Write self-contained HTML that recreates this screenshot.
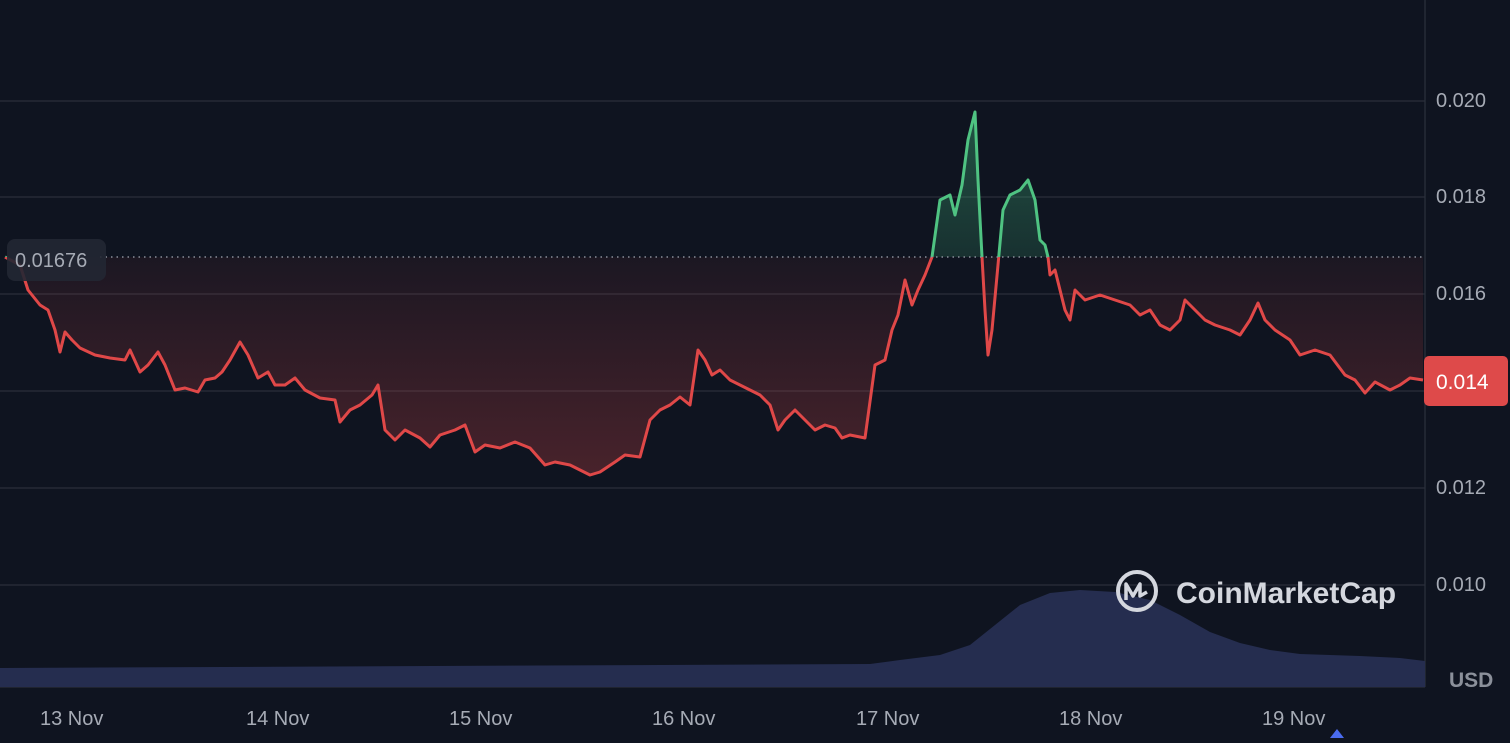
<!DOCTYPE html>
<html><head><meta charset="utf-8"><style>
html,body{margin:0;padding:0;background:#0f1420;}
body{width:1510px;height:738px;overflow:hidden;font-family:"Liberation Sans",sans-serif;}
</style></head><body>
<svg width="1510" height="738" viewBox="0 0 1510 738" xmlns="http://www.w3.org/2000/svg">
<defs>
<linearGradient id="rg" x1="0" y1="257" x2="0" y2="480" gradientUnits="userSpaceOnUse">
<stop offset="0" stop-color="#e04848" stop-opacity="0.06"/><stop offset="1" stop-color="#e04848" stop-opacity="0.28"/></linearGradient>
<linearGradient id="gg" x1="0" y1="110" x2="0" y2="257" gradientUnits="userSpaceOnUse">
<stop offset="0" stop-color="#3fb37a" stop-opacity="0.4"/><stop offset="1" stop-color="#3fb37a" stop-opacity="0.18"/></linearGradient>
<clipPath id="above"><rect x="0" y="0" width="1425" height="257"/></clipPath>
<clipPath id="below"><rect x="0" y="257" width="1425" height="430"/></clipPath>
</defs>
<rect width="1510" height="738" fill="#0f1420"/>
<g stroke="#2a2f3b" stroke-width="1.3">
<line x1="0" y1="101" x2="1425" y2="101"/><line x1="0" y1="197" x2="1425" y2="197"/>
<line x1="0" y1="294" x2="1425" y2="294"/><line x1="0" y1="391" x2="1425" y2="391"/>
<line x1="0" y1="488" x2="1425" y2="488"/><line x1="0" y1="585" x2="1425" y2="585"/>
<line x1="1425" y1="0" x2="1425" y2="687"/><line x1="0" y1="687" x2="1425" y2="687"/>
</g>
<path d="M0,668 L870,664 L900,660 L940,655 L970,645 L995,625 L1020,605 L1050,593 L1080,590 L1115,592 L1150,600 L1180,615 L1210,632 L1240,643 L1270,650 L1300,654 L1360,656 L1400,658 L1425,661 L1425,687 L0,687Z" fill="#252d4f"/>
<polygon fill="url(#rg)" clip-path="url(#below)" points="5,257 5,257 20,265 28,290 40,305 48,310 55,330 60,352 65,332 72,340 80,348 95,355 110,358 125,360 130,350 140,372 148,365 158,352 165,365 175,390 185,388 198,392 205,380 215,378 222,372 230,360 240,342 248,355 258,378 268,372 275,385 285,385 295,378 305,390 320,398 335,400 340,422 350,410 360,405 372,395 378,385 385,430 395,440 405,430 420,438 430,447 440,435 455,430 465,425 475,452 485,445 500,448 515,442 530,448 545,465 555,462 570,465 580,470 590,475 600,472 615,462 625,455 640,457 650,420 660,410 670,405 680,397 690,405 698,350 705,360 712,375 720,370 730,380 740,385 750,390 760,395 770,405 778,430 785,420 795,410 805,420 815,430 825,425 835,428 842,438 850,435 865,438 875,365 885,360 892,330 898,315 905,280 912,305 918,290 925,275 932,257 940,200 950,195 955,215 962,185 968,140 975,112 978,180 982,257 985,310 988,355 992,330 998,265 1003,210 1010,195 1020,190 1028,180 1035,200 1040,240 1045,245 1048,257 1050,275 1055,270 1060,290 1065,310 1070,320 1075,290 1085,300 1100,295 1115,300 1130,305 1140,315 1150,310 1160,325 1170,330 1180,320 1185,300 1195,310 1205,320 1215,325 1230,330 1240,335 1250,320 1258,303 1265,320 1275,330 1290,340 1300,355 1315,350 1330,355 1345,375 1355,380 1365,393 1375,382 1390,390 1400,385 1410,378 1423,380 1423,257"/>
<polygon fill="url(#gg)" clip-path="url(#above)" points="5,257 5,257 20,265 28,290 40,305 48,310 55,330 60,352 65,332 72,340 80,348 95,355 110,358 125,360 130,350 140,372 148,365 158,352 165,365 175,390 185,388 198,392 205,380 215,378 222,372 230,360 240,342 248,355 258,378 268,372 275,385 285,385 295,378 305,390 320,398 335,400 340,422 350,410 360,405 372,395 378,385 385,430 395,440 405,430 420,438 430,447 440,435 455,430 465,425 475,452 485,445 500,448 515,442 530,448 545,465 555,462 570,465 580,470 590,475 600,472 615,462 625,455 640,457 650,420 660,410 670,405 680,397 690,405 698,350 705,360 712,375 720,370 730,380 740,385 750,390 760,395 770,405 778,430 785,420 795,410 805,420 815,430 825,425 835,428 842,438 850,435 865,438 875,365 885,360 892,330 898,315 905,280 912,305 918,290 925,275 932,257 940,200 950,195 955,215 962,185 968,140 975,112 978,180 982,257 985,310 988,355 992,330 998,265 1003,210 1010,195 1020,190 1028,180 1035,200 1040,240 1045,245 1048,257 1050,275 1055,270 1060,290 1065,310 1070,320 1075,290 1085,300 1100,295 1115,300 1130,305 1140,315 1150,310 1160,325 1170,330 1180,320 1185,300 1195,310 1205,320 1215,325 1230,330 1240,335 1250,320 1258,303 1265,320 1275,330 1290,340 1300,355 1315,350 1330,355 1345,375 1355,380 1365,393 1375,382 1390,390 1400,385 1410,378 1423,380 1423,257"/>
<polyline fill="none" stroke="#e04848" stroke-width="3" stroke-linejoin="round" clip-path="url(#below)" points="5,257 20,265 28,290 40,305 48,310 55,330 60,352 65,332 72,340 80,348 95,355 110,358 125,360 130,350 140,372 148,365 158,352 165,365 175,390 185,388 198,392 205,380 215,378 222,372 230,360 240,342 248,355 258,378 268,372 275,385 285,385 295,378 305,390 320,398 335,400 340,422 350,410 360,405 372,395 378,385 385,430 395,440 405,430 420,438 430,447 440,435 455,430 465,425 475,452 485,445 500,448 515,442 530,448 545,465 555,462 570,465 580,470 590,475 600,472 615,462 625,455 640,457 650,420 660,410 670,405 680,397 690,405 698,350 705,360 712,375 720,370 730,380 740,385 750,390 760,395 770,405 778,430 785,420 795,410 805,420 815,430 825,425 835,428 842,438 850,435 865,438 875,365 885,360 892,330 898,315 905,280 912,305 918,290 925,275 932,257 940,200 950,195 955,215 962,185 968,140 975,112 978,180 982,257 985,310 988,355 992,330 998,265 1003,210 1010,195 1020,190 1028,180 1035,200 1040,240 1045,245 1048,257 1050,275 1055,270 1060,290 1065,310 1070,320 1075,290 1085,300 1100,295 1115,300 1130,305 1140,315 1150,310 1160,325 1170,330 1180,320 1185,300 1195,310 1205,320 1215,325 1230,330 1240,335 1250,320 1258,303 1265,320 1275,330 1290,340 1300,355 1315,350 1330,355 1345,375 1355,380 1365,393 1375,382 1390,390 1400,385 1410,378 1423,380"/>
<polyline fill="none" stroke="#4fc382" stroke-width="3" stroke-linejoin="round" clip-path="url(#above)" points="5,257 20,265 28,290 40,305 48,310 55,330 60,352 65,332 72,340 80,348 95,355 110,358 125,360 130,350 140,372 148,365 158,352 165,365 175,390 185,388 198,392 205,380 215,378 222,372 230,360 240,342 248,355 258,378 268,372 275,385 285,385 295,378 305,390 320,398 335,400 340,422 350,410 360,405 372,395 378,385 385,430 395,440 405,430 420,438 430,447 440,435 455,430 465,425 475,452 485,445 500,448 515,442 530,448 545,465 555,462 570,465 580,470 590,475 600,472 615,462 625,455 640,457 650,420 660,410 670,405 680,397 690,405 698,350 705,360 712,375 720,370 730,380 740,385 750,390 760,395 770,405 778,430 785,420 795,410 805,420 815,430 825,425 835,428 842,438 850,435 865,438 875,365 885,360 892,330 898,315 905,280 912,305 918,290 925,275 932,257 940,200 950,195 955,215 962,185 968,140 975,112 978,180 982,257 985,310 988,355 992,330 998,265 1003,210 1010,195 1020,190 1028,180 1035,200 1040,240 1045,245 1048,257 1050,275 1055,270 1060,290 1065,310 1070,320 1075,290 1085,300 1100,295 1115,300 1130,305 1140,315 1150,310 1160,325 1170,330 1180,320 1185,300 1195,310 1205,320 1215,325 1230,330 1240,335 1250,320 1258,303 1265,320 1275,330 1290,340 1300,355 1315,350 1330,355 1345,375 1355,380 1365,393 1375,382 1390,390 1400,385 1410,378 1423,380"/>
<line x1="100" y1="257" x2="1425" y2="257" stroke="#8a8f99" stroke-width="1.5" stroke-dasharray="1.5,4"/>
<rect x="7" y="239" width="99" height="42" rx="8" fill="#222733" fill-opacity="0.9"/>
<text x="15" y="267" font-size="20" fill="#a6abb5">0.01676</text>
<g font-size="20" fill="#a6abb5">
<text x="1436" y="107">0.020</text><text x="1436" y="203">0.018</text>
<text x="1436" y="300">0.016</text><text x="1436" y="494">0.012</text><text x="1436" y="591">0.010</text>
</g>
<rect x="1424" y="356" width="84" height="50" rx="5" fill="#de4a4a"/>
<text x="1436" y="389" font-size="21" fill="#ffffff">0.014</text>
<text x="1449" y="687" font-size="21" font-weight="bold" fill="#8b909a">USD</text>
<g font-size="20" fill="#a6abb5">
<text x="40" y="725">13 Nov</text><text x="246" y="725">14 Nov</text><text x="449" y="725">15 Nov</text>
<text x="652" y="725">16 Nov</text><text x="856" y="725">17 Nov</text><text x="1059" y="725">18 Nov</text><text x="1262" y="725">19 Nov</text>
</g>
<polygon points="1330,738 1337,729 1344,738" fill="#4a6cf0"/>
<circle cx="1137" cy="591" r="19" fill="none" stroke="#d4d7de" stroke-width="4"/>
<path d="M1126,600 L1126,584 L1133,596 L1140,584 L1140,596 L1147,592" fill="none" stroke="#d4d7de" stroke-width="3.5" stroke-linejoin="round"/>
<text x="1176" y="603" font-size="30" font-weight="bold" fill="#d4d7de">CoinMarketCap</text>
</svg>
</body></html>
